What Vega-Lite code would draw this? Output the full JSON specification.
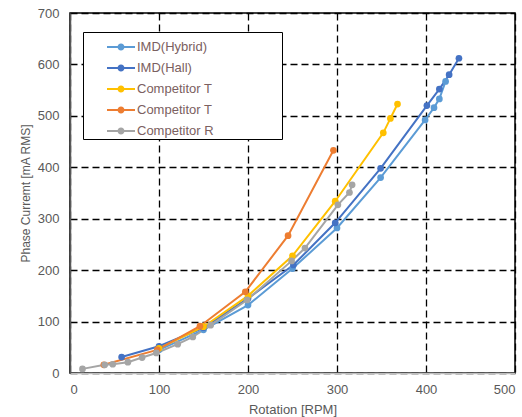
{
  "$schema": "https://vega.github.io/schema/vega-lite/v6.json",
  "width": 445,
  "height": 360,
  "autosize": {"type": "none"},
  "padding": {"left": 70, "top": 13, "right": 7, "bottom": 44},
  "background": "white",
  "config": {
    "view": {"stroke": "black", "strokeWidth": 1.5},
    "font": "Liberation Sans"
  },
  "data": {
    "values": [
      {"series": "IMD(Hybrid)", "rpm": 100, "current": 45},
      {"series": "IMD(Hybrid)", "rpm": 150, "current": 84},
      {"series": "IMD(Hybrid)", "rpm": 200, "current": 132},
      {"series": "IMD(Hybrid)", "rpm": 250, "current": 203},
      {"series": "IMD(Hybrid)", "rpm": 300, "current": 282},
      {"series": "IMD(Hybrid)", "rpm": 349, "current": 380},
      {"series": "IMD(Hybrid)", "rpm": 399, "current": 492},
      {"series": "IMD(Hybrid)", "rpm": 409, "current": 516},
      {"series": "IMD(Hybrid)", "rpm": 415, "current": 533},
      {"series": "IMD(Hybrid)", "rpm": 422, "current": 567},
      {"series": "IMD(Hall)", "rpm": 58, "current": 31},
      {"series": "IMD(Hall)", "rpm": 100, "current": 52},
      {"series": "IMD(Hall)", "rpm": 150, "current": 88},
      {"series": "IMD(Hall)", "rpm": 200, "current": 145},
      {"series": "IMD(Hall)", "rpm": 251, "current": 210},
      {"series": "IMD(Hall)", "rpm": 298, "current": 292},
      {"series": "IMD(Hall)", "rpm": 349, "current": 398},
      {"series": "IMD(Hall)", "rpm": 401, "current": 520},
      {"series": "IMD(Hall)", "rpm": 415, "current": 552},
      {"series": "IMD(Hall)", "rpm": 426, "current": 580},
      {"series": "IMD(Hall)", "rpm": 437, "current": 612},
      {"series": "Competitor T (yellow)", "rpm": 100, "current": 48},
      {"series": "Competitor T (yellow)", "rpm": 150, "current": 90},
      {"series": "Competitor T (yellow)", "rpm": 200, "current": 150},
      {"series": "Competitor T (yellow)", "rpm": 250, "current": 228},
      {"series": "Competitor T (yellow)", "rpm": 298, "current": 334},
      {"series": "Competitor T (yellow)", "rpm": 352, "current": 467},
      {"series": "Competitor T (yellow)", "rpm": 360, "current": 495},
      {"series": "Competitor T (yellow)", "rpm": 368, "current": 523},
      {"series": "Competitor T (orange)", "rpm": 38, "current": 16},
      {"series": "Competitor T (orange)", "rpm": 98, "current": 45},
      {"series": "Competitor T (orange)", "rpm": 146, "current": 91},
      {"series": "Competitor T (orange)", "rpm": 197, "current": 158},
      {"series": "Competitor T (orange)", "rpm": 245, "current": 267},
      {"series": "Competitor T (orange)", "rpm": 296, "current": 433},
      {"series": "Competitor R", "rpm": 14, "current": 8},
      {"series": "Competitor R", "rpm": 39, "current": 16},
      {"series": "Competitor R", "rpm": 48, "current": 17},
      {"series": "Competitor R", "rpm": 65, "current": 21},
      {"series": "Competitor R", "rpm": 81, "current": 30},
      {"series": "Competitor R", "rpm": 97, "current": 39},
      {"series": "Competitor R", "rpm": 121, "current": 56},
      {"series": "Competitor R", "rpm": 138, "current": 70},
      {"series": "Competitor R", "rpm": 158, "current": 93},
      {"series": "Competitor R", "rpm": 199, "current": 142},
      {"series": "Competitor R", "rpm": 249, "current": 218},
      {"series": "Competitor R", "rpm": 264, "current": 243},
      {"series": "Competitor R", "rpm": 301, "current": 327},
      {"series": "Competitor R", "rpm": 314, "current": 351},
      {"series": "Competitor R", "rpm": 317, "current": 366}
    ]
  },
  "encoding": {
    "x": {
      "field": "rpm",
      "type": "quantitative",
      "scale": {"domain": [0, 500], "nice": false},
      "axis": {
        "values": [0, 100, 200, 300, 400, 500],
        "grid": true,
        "gridColor": "black",
        "gridDash": [7, 4],
        "gridWidth": 1.3,
        "gridOpacity": 1,
        "ticks": false,
        "labelFontSize": 13,
        "labelColor": "#595959",
        "labelPadding": 10,
        "domainColor": "#bfbfbf",
        "domainWidth": 1.5,
        "title": "Rotation [RPM]",
        "titleFontSize": 13,
        "titleFontWeight": "normal",
        "titleColor": "#595959",
        "titlePadding": 7
      }
    },
    "y": {
      "field": "current",
      "type": "quantitative",
      "scale": {"domain": [0, 700], "nice": false},
      "axis": {
        "values": [0, 100, 200, 300, 400, 500, 600, 700],
        "grid": true,
        "gridColor": "black",
        "gridDash": [7, 4],
        "gridWidth": 1.3,
        "gridOpacity": 1,
        "ticks": false,
        "labelFontSize": 13,
        "labelColor": "#595959",
        "labelPadding": 11,
        "domainColor": "#595959",
        "domainWidth": 1.5,
        "title": "Phase Curremt [mA RMS]",
        "titleFontSize": 12,
        "titleFontWeight": "normal",
        "titleColor": "#595959",
        "titlePadding": 5
      }
    },
    "color": {
      "field": "series",
      "type": "nominal",
      "scale": {
        "domain": ["IMD(Hybrid)", "IMD(Hall)", "Competitor T (yellow)", "Competitor T (orange)", "Competitor R"],
        "range": ["#5B9BD5", "#4472C4", "#FFC000", "#ED7D31", "#A5A5A5"]
      },
      "legend": {
        "orient": "none",
        "legendX": 13,
        "legendY": 19,
        "title": " ",
        "titleOrient": "right",
        "titlePadding": 67,
        "strokeColor": "black",
        "fillColor": "white",
        "padding": 1,
        "rowPadding": -1.5,
        "symbolType": "M-1,-0.07L1,-0.07L1,0.07L-1,0.07Z M0.25,0A0.25,0.25,0,1,1,-0.25,0A0.25,0.25,0,1,1,0.25,0Z",
        "symbolSize": 784,
        "symbolStrokeWidth": 0,
        "symbolOffset": 23,
        "labelFontSize": 13,
        "labelColor": "#7b6060",
        "labelOffset": 2,
        "labelExpr": "indexof(datum.label, 'Competitor T') == 0 ? 'Competitor T' : datum.label"
      }
    }
  },
  "layer": [
    {"mark": {"type": "line", "strokeWidth": 2}},
    {"mark": {"type": "point", "filled": true, "size": 45, "opacity": 1}}
  ]
}
